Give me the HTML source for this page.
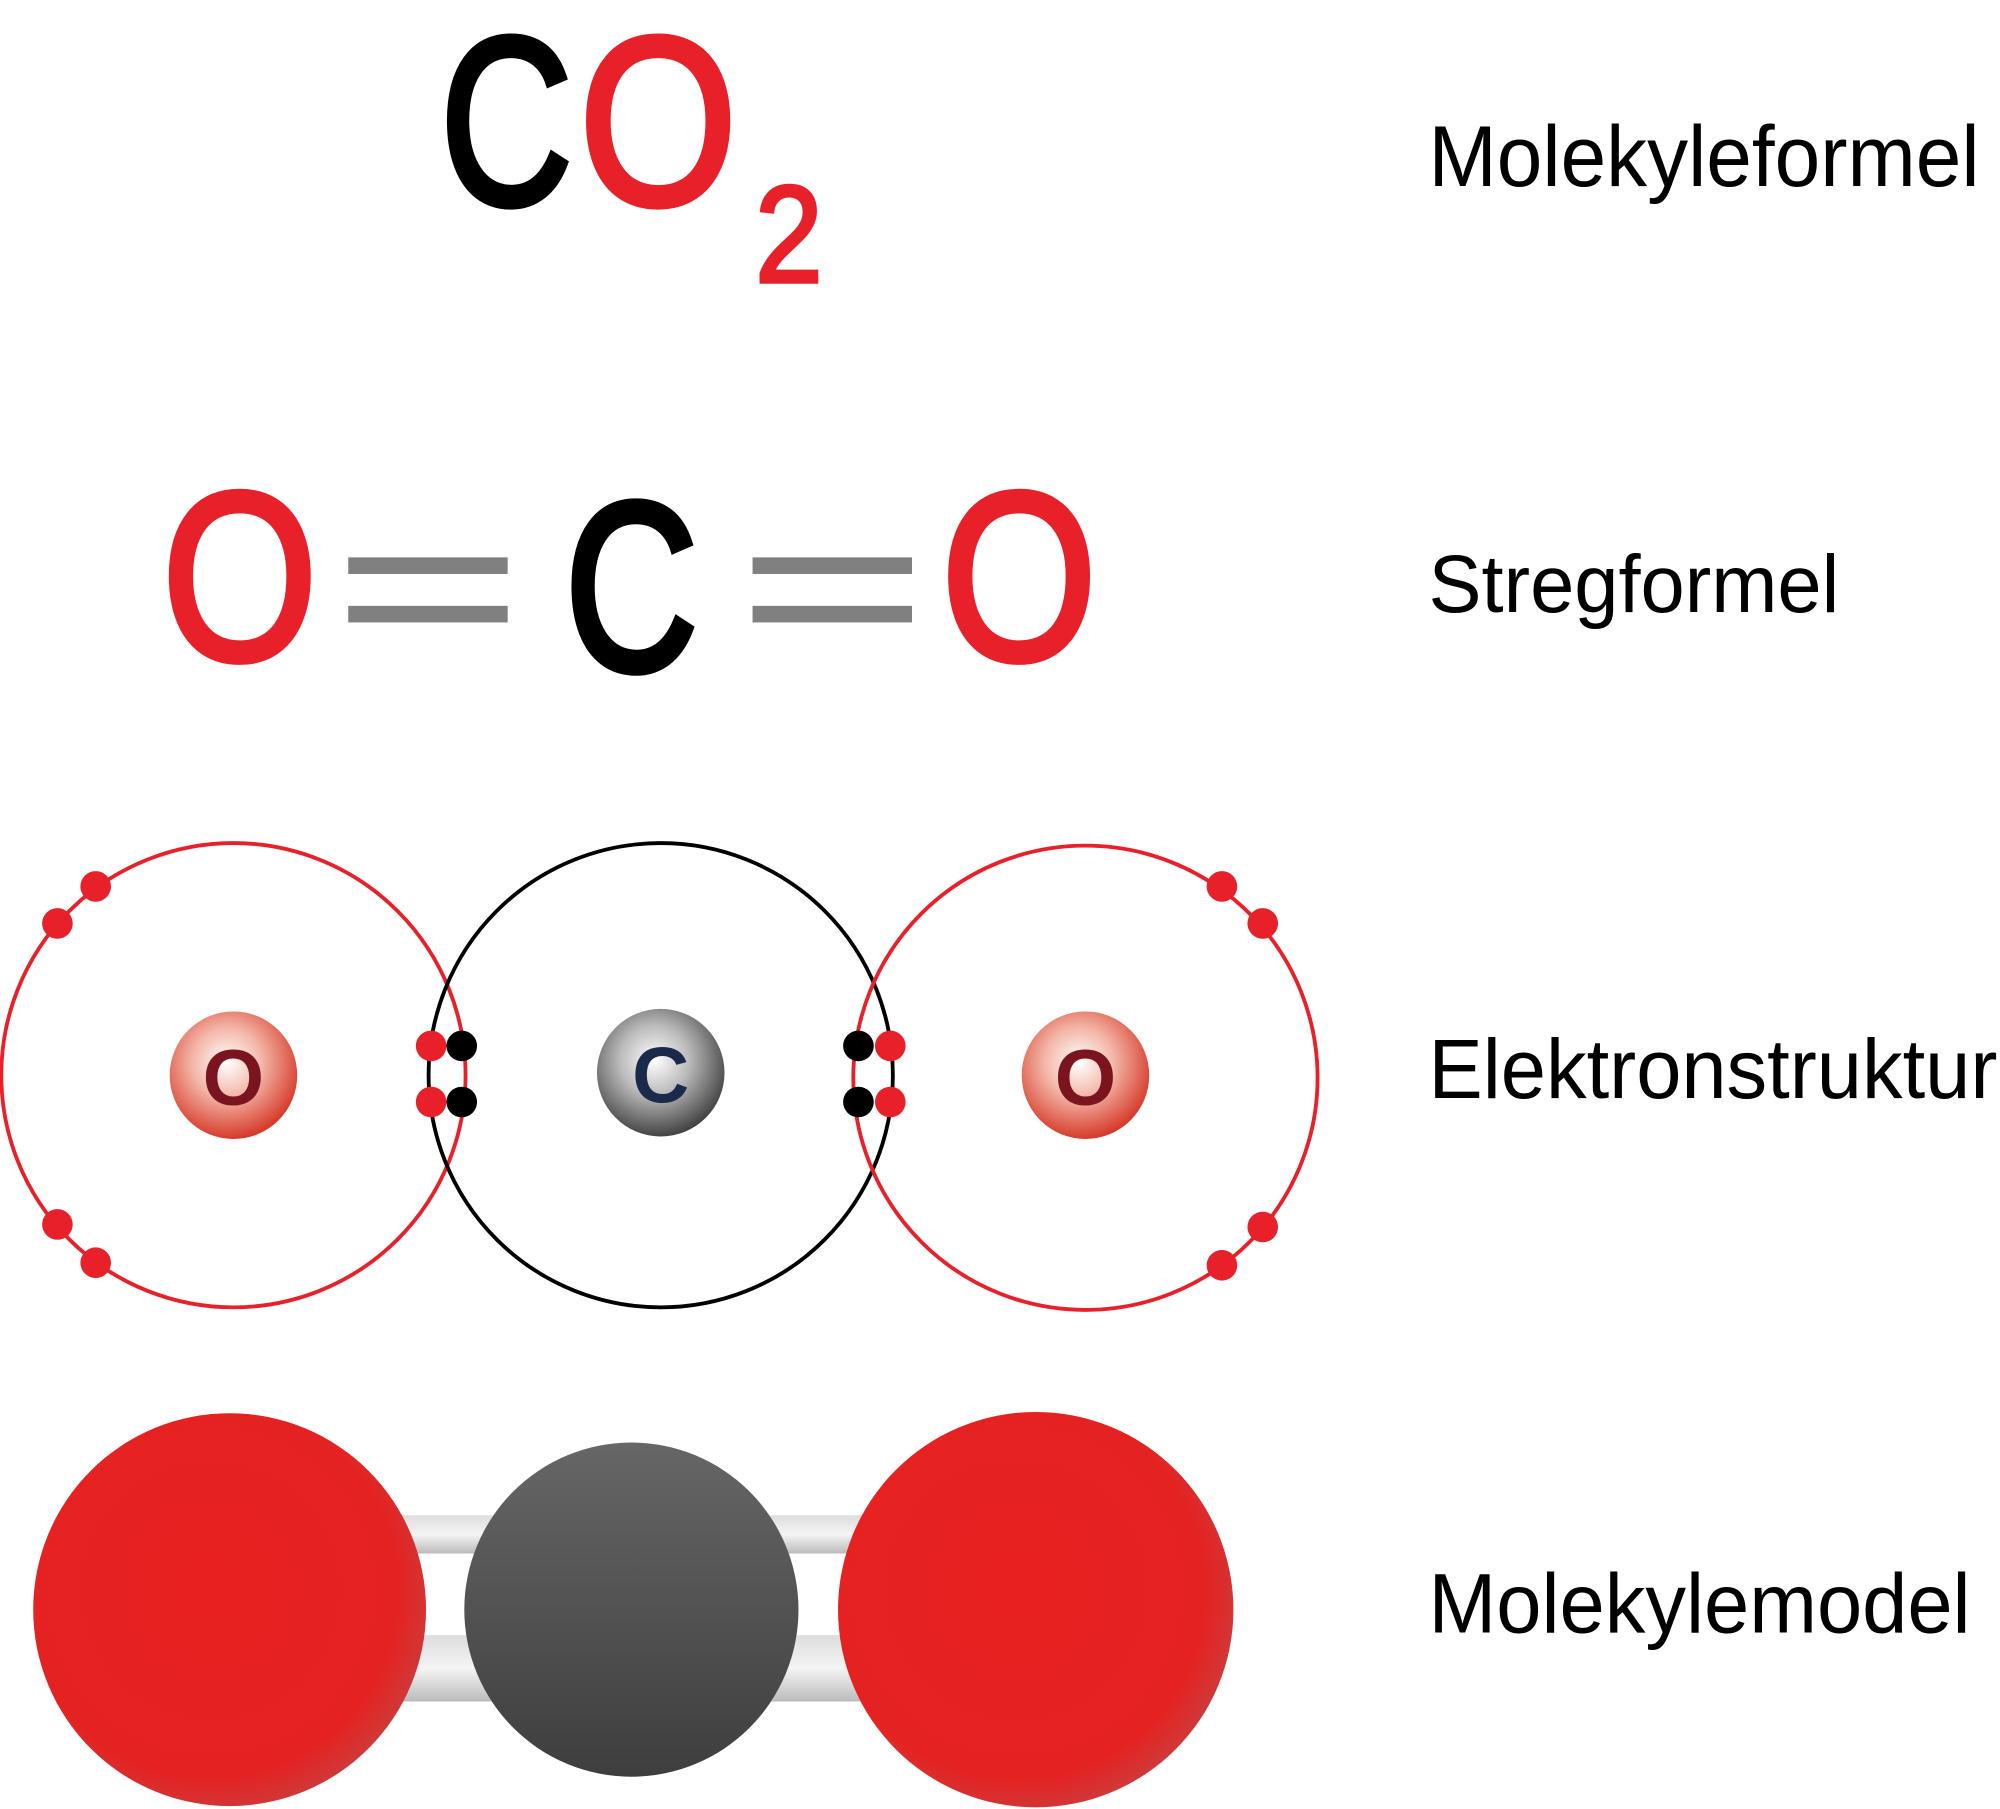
<!DOCTYPE html>
<html><head><meta charset="utf-8"><style>
html,body{margin:0;padding:0;background:#fff;width:2000px;height:1809px;overflow:hidden}
svg{display:block}
text{font-family:"Liberation Sans",sans-serif}
</style></head><body>
<svg width="2000" height="1809" viewBox="0 0 1568 1418.3" xmlns="http://www.w3.org/2000/svg">
<defs>
<radialGradient id="rn" cx="45%" cy="40%" r="60%">
<stop offset="0" stop-color="#fff"/><stop offset="0.45" stop-color="#f3b7a8"/><stop offset="1" stop-color="#d63a2a"/></radialGradient>
<radialGradient id="cn" cx="45%" cy="40%" r="60%">
<stop offset="0" stop-color="#fff"/><stop offset="0.45" stop-color="#bbb"/><stop offset="1" stop-color="#444"/></radialGradient>
<radialGradient id="rs" cx="45%" cy="45%" r="60%">
<stop offset="0" stop-color="#e82020"/><stop offset="0.8" stop-color="#e52222"/><stop offset="1" stop-color="#c84040"/></radialGradient>
<linearGradient id="gs" x1="0" y1="0" x2="0" y2="1">
<stop offset="0" stop-color="#666"/><stop offset="1" stop-color="#3e3e3e"/></linearGradient>
<linearGradient id="bond" x1="0" y1="0" x2="0" y2="1">
<stop offset="0" stop-color="#ddd"/><stop offset="0.5" stop-color="#f4f4f4"/><stop offset="1" stop-color="#bbb"/></linearGradient>
</defs>

<!-- CO2 -->
<text x="345" y="160" font-size="188" fill="#000" stroke="#000" stroke-width="5" textLength="104" lengthAdjust="spacingAndGlyphs">C</text>
<text x="454" y="160" font-size="188" fill="#e8202a" stroke="#e8202a" stroke-width="5" textLength="124" lengthAdjust="spacingAndGlyphs">O</text>
<text x="592" y="221" font-size="108" fill="#e8202a" stroke="#e8202a" stroke-width="3" textLength="53" lengthAdjust="spacingAndGlyphs">2</text>
<text x="1120" y="146" font-size="68" fill="#000" textLength="432" lengthAdjust="spacingAndGlyphs">Molekyleformel</text>

<!-- Stregformel -->
<text x="127" y="517" font-size="188" fill="#e8202a" stroke="#e8202a" stroke-width="5" textLength="122" lengthAdjust="spacingAndGlyphs">O</text>
<rect x="273" y="437" width="125" height="13" fill="#808080"/>
<rect x="273" y="475" width="125" height="13" fill="#808080"/>
<text x="443" y="525" font-size="188" fill="#000" stroke="#000" stroke-width="6" textLength="104" lengthAdjust="spacingAndGlyphs">C</text>
<rect x="590" y="437" width="125" height="13" fill="#808080"/>
<rect x="590" y="475" width="125" height="13" fill="#808080"/>
<text x="738" y="517" font-size="188" fill="#e8202a" stroke="#e8202a" stroke-width="5" textLength="122" lengthAdjust="spacingAndGlyphs">O</text>
<text x="1120" y="480" font-size="64" fill="#000" textLength="322" lengthAdjust="spacingAndGlyphs">Stregformel</text>

<!-- Electron structure -->
<circle cx="183" cy="843" r="182" fill="none" stroke="#e8202a" stroke-width="3"/>
<circle cx="518" cy="843" r="182" fill="none" stroke="#000" stroke-width="3"/>
<circle cx="851" cy="845" r="182" fill="none" stroke="#e8202a" stroke-width="3"/>
<circle cx="183" cy="843" r="50" fill="url(#rn)"/>
<circle cx="518" cy="841" r="50" fill="url(#cn)"/>
<circle cx="851" cy="843" r="50" fill="url(#rn)"/>
<text x="183" y="866" font-size="62" font-weight="bold" fill="#7a1520" text-anchor="middle">O</text>
<text x="518" y="864" font-size="62" font-weight="bold" fill="#1a2a4a" text-anchor="middle">C</text>
<text x="851" y="866" font-size="62" font-weight="bold" fill="#7a1520" text-anchor="middle">O</text>
<g fill="#e8202a">
<circle cx="75" cy="695" r="12"/><circle cx="45" cy="724" r="12"/>
<circle cx="45" cy="960" r="12"/><circle cx="75" cy="990" r="12"/>
<circle cx="338" cy="820" r="12"/><circle cx="338" cy="864" r="12"/>
<circle cx="698" cy="820" r="12"/><circle cx="698" cy="864" r="12"/>
<circle cx="958" cy="695" r="12"/><circle cx="990" cy="724" r="12"/>
<circle cx="990" cy="962" r="12"/><circle cx="958" cy="992" r="12"/>
</g>
<g fill="#000">
<circle cx="362" cy="820" r="12"/><circle cx="362" cy="864" r="12"/>
<circle cx="673" cy="820" r="12"/><circle cx="673" cy="864" r="12"/>
</g>
<text x="1120" y="861" font-size="66" fill="#000" textLength="446" lengthAdjust="spacingAndGlyphs">Elektronstruktur</text>

<!-- Molecule model -->
<rect x="290" y="1188" width="420" height="30" rx="12" fill="url(#bond)"/>
<rect x="290" y="1282" width="420" height="52" rx="14" fill="url(#bond)"/>
<circle cx="495" cy="1262" r="131" fill="url(#gs)"/>
<circle cx="180" cy="1262" r="154" fill="url(#rs)"/>
<circle cx="812" cy="1262" r="155" fill="url(#rs)"/>
<text x="1120" y="1280" font-size="66" fill="#000" textLength="425" lengthAdjust="spacingAndGlyphs">Molekylemodel</text>
</svg>
</body></html>
